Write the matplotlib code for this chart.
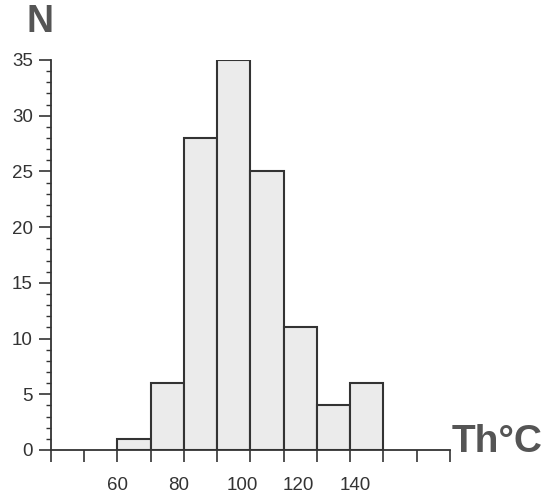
import matplotlib
matplotlib.use("Agg")
import matplotlib.pyplot as plt
from matplotlib.ticker import MultipleLocator
import matplotlib.transforms as mtransforms

# Data
bin_left = [60, 70, 80, 90, 100, 110, 120, 130]
counts = [1, 6, 28, 35, 25, 11, 4, 6]
bin_width = 10
x_tick_labels = ["60", "80", "100", "120", "140"]
x_label_positions = [60, 78.5, 97.5, 114.5, 131.5]
y_ticks = [0, 5, 10, 15, 20, 25, 30, 35]

plt.rcParams['font.family'] = ['Liberation Sans', 'DejaVu Sans']

fig = plt.figure(figsize=(5.45, 5.01), dpi=100)
ax = fig.add_axes([51/545, 51/501, 399/545, 390/501])

ax.bar(bin_left, counts, width=bin_width, align='edge',
       facecolor='#ebebeb', edgecolor='#333333', linewidth=1.5, zorder=2)

ax.set_xlim(40, 160)
ax.set_ylim(0, 35)

for s in ['top', 'right']:
    ax.spines[s].set_visible(False)
for s in ['left', 'bottom']:
    ax.spines[s].set_color('#333333')
    ax.spines[s].set_linewidth(1.3)
    ax.spines[s].set_zorder(3)

ax.xaxis.set_major_locator(MultipleLocator(10))
ax.set_xticklabels([])
ax.tick_params(axis='x', which='major', direction='out', length=8.5,
               width=1.2, color='#333333')

ax.set_yticks(y_ticks)
ax.yaxis.set_minor_locator(MultipleLocator(1))
ax.tick_params(axis='y', which='major', direction='out', length=9,
               width=1.2, color='#333333', labelsize=13.5,
               labelcolor='#333333', pad=4)
ax.tick_params(axis='y', which='minor', direction='out', length=3.8,
               width=1.0, color='#333333')

trans = mtransforms.blended_transform_factory(ax.transData, fig.transFigure)
for pos, lab in zip(x_label_positions, x_tick_labels):
    ax.text(pos, 1 - 486/501, lab, transform=trans, ha='center', va='center',
            fontsize=13.5, color='#333333')

fig.text(40/545, 1 - 22/501, "N", ha='center', va='center', fontsize=27,
         fontweight='bold', color='#555555')
fig.text(497/545, 1 - 442/501, "Th°C", ha='center', va='center', fontsize=28,
         fontweight='bold', color='#555555')

fig.savefig("out.png", dpi=100)
